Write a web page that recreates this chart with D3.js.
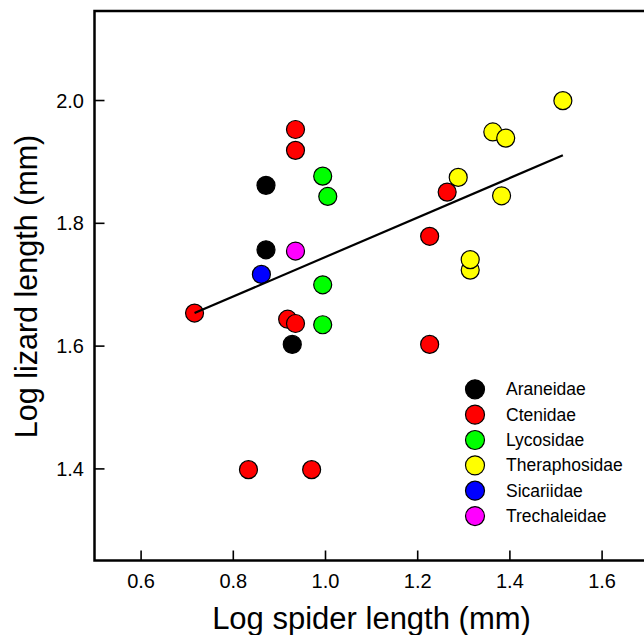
<!DOCTYPE html>
<html>
<head>
<meta charset="utf-8">
<script src="https://cdn.jsdelivr.net/npm/d3@7"></script>
<style>
  body { margin: 0; background: #fff; }
  svg { display: block; font-family: Arial, "Liberation Sans", sans-serif; }
</style>
</head>
<body>
<svg></svg>
<script>
var width = 644;
var height = 635;

// points, in drawing order
var family = ["Araneidae", "Araneidae", "Araneidae",
              "Theraphosidae", "Theraphosidae", "Theraphosidae", "Theraphosidae", "Theraphosidae", "Theraphosidae", "Theraphosidae",
              "Ctenidae", "Ctenidae", "Ctenidae", "Ctenidae", "Ctenidae", "Ctenidae", "Ctenidae", "Ctenidae", "Ctenidae", "Ctenidae",
              "Lycosidae", "Lycosidae", "Lycosidae", "Lycosidae",
              "Sicariidae", "Trechaleidae"];
var spider = [0.872, 0.872, 0.929,
              1.516, 1.364, 1.392, 1.289, 1.383, 1.315, 1.315,
              0.936, 0.936, 0.717, 0.919, 0.936, 0.834, 0.971, 1.265, 1.227, 1.227,
              0.995, 1.006, 0.995, 0.995,
              0.862, 0.936];
var lizard = [1.861, 1.756, 1.602,
              1.999, 1.948, 1.938, 1.874, 1.844, 1.723, 1.740,
              1.952, 1.918, 1.653, 1.643, 1.636, 1.398, 1.398, 1.850, 1.778, 1.602,
              1.876, 1.843, 1.699, 1.634,
              1.716, 1.754];

// fitted line end points
var fitX = [0.717, 1.516];
var fitY = [1.653, 1.910];

var families = ["Araneidae", "Ctenidae", "Lycosidae", "Theraphosidae", "Sicariidae", "Trechaleidae"];
var colours = ["#000000", "#ff0000", "#00ff00", "#ffff00", "#0000ff", "#ff00ff"];

var xTicks = [0.6, 0.8, 1.0, 1.2, 1.4, 1.6];
var yTicks = [1.4, 1.6, 1.8, 2.0];

var plotLeft = 94.5, plotTop = 11, plotBottom = 560.5;

var xScale = d3.scaleLinear()
                .domain([0.5, 1.8])
                .range([plotLeft, plotLeft + 1.3 * 461]);

var yScale = d3.scaleLinear()
                .domain([1.25, 2.145])
                .range([plotBottom, plotTop]);

var colour = d3.scaleOrdinal()
                .domain(families)
                .range(colours);

var svg = d3.select("svg")
            .attr("width", width)
            .attr("height", height);

var points = family.map((f, i) => ({family: f, x: spider[i], y: lizard[i]}));

svg.selectAll("circle.pt")
    .data(points)
    .enter()
    .append("circle")
        .classed("pt", true)
        .attr("cx", d => xScale(d.x))
        .attr("cy", d => yScale(d.y))
        .attr("r", 9)
        .attr("fill", d => colour(d.family))
        .attr("stroke", "#000")
        .attr("stroke-width", 1.2);

svg.append("line")
    .attr("x1", xScale(fitX[0]))
    .attr("y1", yScale(fitY[0]))
    .attr("x2", xScale(fitX[1]))
    .attr("y2", yScale(fitY[1]))
    .attr("stroke", "#000")
    .attr("stroke-width", 2.2);

// axes, ticks pointing inward
svg.append("g")
    .attr("transform", "translate(0, " + plotBottom + ")")
    .classed("x-axis", true)
    .call(d3.axisTop(xScale).tickValues(xTicks).tickSize(10).tickFormat(d3.format(".1f")));

svg.append("g")
    .attr("transform", "translate(" + plotLeft + ", 0)")
    .classed("y-axis", true)
    .call(d3.axisRight(yScale).tickValues(yTicks).tickSize(10).tickFormat(d3.format(".1f")));

svg.selectAll(".x-axis .domain, .y-axis .domain").remove();
svg.selectAll(".x-axis, .y-axis").attr("font-family", null).attr("font-size", 20);
svg.selectAll(".tick line").attr("stroke", "#000").attr("stroke-width", 1.6);

svg.selectAll(".x-axis .tick text")
    .attr("y", 20.5)
    .attr("dy", "0.35em")
    .attr("fill", "#000");

svg.selectAll(".y-axis .tick text")
    .attr("x", -10.5)
    .attr("dy", "0.35em")
    .attr("text-anchor", "end")
    .attr("fill", "#000");

// frame
svg.append("rect")
    .attr("x", xScale.range()[0])
    .attr("y", plotTop)
    .attr("width", xScale.range()[1] - xScale.range()[0])
    .attr("height", plotBottom - plotTop)
    .attr("fill", "none")
    .attr("stroke", "#000")
    .attr("stroke-width", 2.5);

svg.append("text")
    .attr("x", 371.5)
    .attr("y", 629)
    .style("text-anchor", "middle")
    .attr("font-size", 31)
    .text("Log spider length (mm)");

svg.append("text")
    .attr("transform", "rotate(-90)")
    .attr("x", -286.5)
    .attr("y", 37)
    .style("text-anchor", "middle")
    .attr("font-size", 30.5)
    .text("Log lizard length (mm)");

// legend
var legend = svg.selectAll("g.legend")
    .data(families)
    .enter()
    .append("g")
        .classed("legend", true)
        .attr("transform", (d, i) => "translate(475, " + (389.3 + i * 25.35) + ")");

legend.append("circle")
    .attr("r", 9.5)
    .attr("fill", d => colour(d))
    .attr("stroke", "#000")
    .attr("stroke-width", 1.2);

legend.append("text")
    .attr("x", 31)
    .attr("y", 6)
    .attr("font-size", 17.5)
    .text(d => d);
</script>
</body>
</html>
